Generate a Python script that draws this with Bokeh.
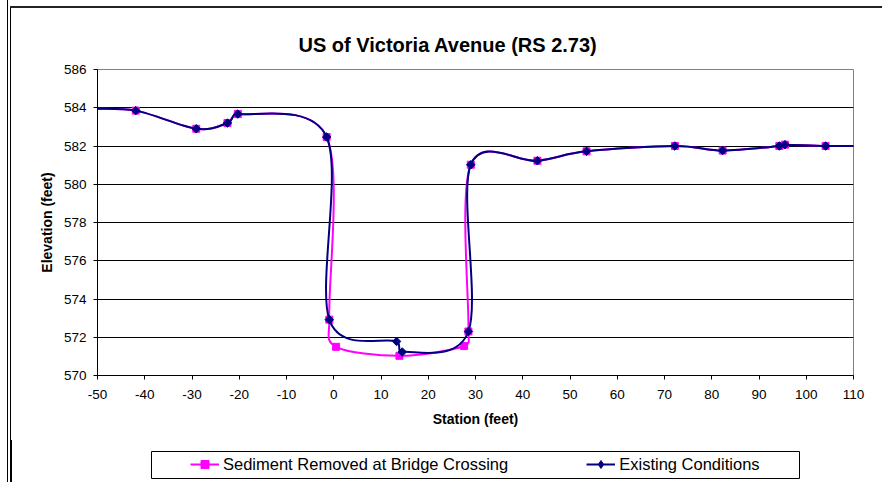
import numpy as np
from bokeh.plotting import figure
from bokeh.models import Range1d, Legend, LegendItem, FixedTicker, ColumnDataSource, InlineStyleSheet
from bokeh.embed import file_html
from bokeh.resources import INLINE

# ---- data ----
title_text = "US of Victoria Avenue (RS 2.73)"
x_label = "Station (feet)"
y_label = "Elevation (feet)"
series_names = ["Sediment Removed at Bridge Crossing", "Existing Conditions"]

sed_x = [-52, -41.9, -29.1, -22.5, -20.3, -1.5, -0.94, 0.5, 13.9, 27.6, 28.5, 29.0,
         43.1, 53.5, 72.2, 82.3, 94.3, 95.5, 104.1, 112]
sed_y = [583.94, 583.85, 582.9, 583.2, 583.67, 582.47, 572.92, 571.5, 571.03, 571.54, 572.3, 581.02,
         581.23, 581.72, 582.0, 581.76, 582.0, 582.07, 582.0, 582.0]

exist_x = [-52, -41.9, -29.1, -22.5, -20.3, -1.5, -0.94, 13.3, 14.5, 28.5, 29.0,
           43.1, 53.5, 72.2, 82.3, 94.3, 95.5, 104.1, 112]
exist_y = [583.94, 583.85, 582.9, 583.2, 583.67, 582.47, 572.92, 571.78, 571.23, 572.3, 581.02,
           581.23, 581.72, 582.0, 581.76, 582.0, 582.07, 582.0, 582.0]

x_ticks = list(range(-50, 111, 10))
y_ticks = list(range(570, 587, 2))

# ---- style / layout ----
FONT = "Liberation Sans"
PINK = "#FF00FF"
NAVY = "#000080"
W, H, HL = 882, 440, 42
FL, FR, FT, FB = 97, 29, 69, 65
X0, X1, Y0, Y1 = x_ticks[0], x_ticks[-1], y_ticks[0], y_ticks[-1]
fw = W - FL - FR
fh = H - FT - FB
sx = fw / (X1 - X0)
sy = fh / (Y1 - Y0)


def smooth(xs, ys):
    """Excel-like smoothed line: cubic Bezier segments (Catmull-Rom, 1/6 tension,
    control distance capped to half the segment, computed in screen space)."""
    P = np.column_stack([np.asarray(xs, float) * sx, np.asarray(ys, float) * sy])
    n = len(P)
    out = {k: [] for k in ("x0", "y0", "x1", "y1", "cx0", "cy0", "cx1", "cy1")}
    for i in range(n - 1):
        p0 = P[max(i - 1, 0)]
        p1 = P[i]
        p2 = P[i + 1]
        p3 = P[min(i + 2, n - 1)]
        seg = np.linalg.norm(p2 - p1)
        t1 = (p2 - p0) / 6.0
        t2 = (p3 - p1) / 6.0
        l1 = np.linalg.norm(t1)
        l2 = np.linalg.norm(t2)
        if l1 > seg / 2 and l1 > 0:
            t1 = t1 * (seg / 2) / l1
        if l2 > seg / 2 and l2 > 0:
            t2 = t2 * (seg / 2) / l2
        c1 = p1 + t1
        c2 = p2 - t2
        out["x0"].append(p1[0] / sx); out["y0"].append(p1[1] / sy)
        out["x1"].append(p2[0] / sx); out["y1"].append(p2[1] / sy)
        out["cx0"].append(c1[0] / sx); out["cy0"].append(c1[1] / sy)
        out["cx1"].append(c2[0] / sx); out["cy1"].append(c2[1] / sy)
    return ColumnDataSource(out)


# decorative sheet border (top/left edges of the chart object)
BASE = ("content:''; position:absolute; pointer-events:none; z-index:20; border:none; "
        "box-sizing:content-box; padding:0; margin:0;")
top_css = (
    ":host::before {" + BASE + " left:7px; top:0; width:1px; height:440px; background:#000;"
    " box-shadow: 3px 6px 0 0 #000;}"
    ":host::after {" + BASE + " left:10px; top:6px; width:872px; height:1.5px; background:#222;}"
)
bottom_css = (
    ":host::before {" + BASE + " left:7px; top:0; width:1px; height:42px; background:#000;}"
    ":host::after {" + BASE + " left:10px; top:0; width:1.5px; height:42px; background:#000;}"
)

p = figure(width=W, height=H, x_range=Range1d(X0, X1), y_range=Range1d(Y0, Y1),
           output_backend="svg", toolbar_location=None,
           min_border_left=FL, min_border_right=FR, min_border_top=FT, min_border_bottom=FB,
           title=title_text)
p.stylesheets = [InlineStyleSheet(css=top_css)]
p.title.text_font = FONT
p.title.text_font_size = "20px"
p.title.text_font_style = "bold"
p.title.text_color = "black"
p.title.align = "left"
p.title.offset = 201
p.title.standoff = 28

p.outline_line_color = "#808080"
p.outline_line_width = 1
p.xgrid.visible = False
p.ygrid.grid_line_color = "black"
p.ygrid.grid_line_width = 1
p.ygrid.ticker = FixedTicker(ticks=y_ticks)

p.xaxis.ticker = FixedTicker(ticks=x_ticks)
p.yaxis.ticker = FixedTicker(ticks=y_ticks)
p.xaxis.major_label_overrides = {t: str(t) for t in x_ticks}
p.yaxis.major_label_overrides = {t: str(t) for t in y_ticks}
p.xaxis.axis_label = x_label
p.yaxis.axis_label = y_label
for ax in (p.xaxis[0], p.yaxis[0]):
    ax.axis_line_color = "black"
    ax.axis_line_width = 1
    ax.major_tick_in = 0
    ax.major_tick_out = 4
    ax.major_tick_line_color = "black"
    ax.minor_tick_line_color = None
    ax.major_label_text_font = FONT
    ax.major_label_text_font_size = "13.5px"
    ax.major_label_text_color = "black"
    ax.major_label_standoff = 7
    ax.axis_label_text_font = FONT
    ax.axis_label_text_font_size = "14px"
    ax.axis_label_text_font_style = "bold"
    ax.axis_label_text_color = "black"
p.yaxis.axis_label_standoff = 6
p.xaxis.axis_label_standoff = 9
p.xaxis.major_label_standoff = 10

# pink: sediment removed
p.bezier(x0="x0", y0="y0", x1="x1", y1="y1", cx0="cx0", cy0="cy0", cx1="cx1", cy1="cy1",
         source=smooth(sed_x, sed_y), line_color=PINK, line_width=2)
p.scatter(sed_x, sed_y, marker="square", size=7, fill_color=PINK, line_color=PINK)
# navy: existing conditions
p.bezier(x0="x0", y0="y0", x1="x1", y1="y1", cx0="cx0", cy0="cy0", cx1="cx1", cy1="cy1",
         source=smooth(exist_x, exist_y), line_color=NAVY, line_width=2)
p.scatter(exist_x, exist_y, marker="square", angle=np.pi / 4, size=6,
          fill_color=NAVY, line_color=NAVY)

# ---- legend strip (its frame outline is the legend box) ----
LL, LW = 151, 648
p2 = figure(width=W, height=HL, x_range=Range1d(0, 1), y_range=Range1d(0, 1),
            output_backend="svg", toolbar_location=None,
            min_border_left=LL, min_border_right=W - LL - LW, min_border_top=11,
            min_border_bottom=4, x_axis_location=None, y_axis_location=None)
p2.stylesheets = [InlineStyleSheet(css=bottom_css)]
p2.grid.visible = False
p2.outline_line_color = "black"
p2.outline_line_width = 1
# same series, out of this strip's view, only so the legend can draw their glyphs
l1 = p2.line(sed_x, sed_y, line_color=PINK, line_width=2)
m1 = p2.scatter(sed_x, sed_y, marker="square", size=7, fill_color=PINK, line_color=PINK)
l2 = p2.line(exist_x, exist_y, line_color=NAVY, line_width=2)
m2 = p2.scatter(exist_x, exist_y, marker="diamond", size=10,
                fill_color=NAVY, line_color=NAVY)
legend = Legend(items=[LegendItem(label=series_names[0], renderers=[l1, m1]),
                       LegendItem(label=series_names[1], renderers=[l2, m2])],
                location=(39, 4), orientation="horizontal", padding=0, spacing=78,
                glyph_width=29, glyph_height=20, label_height=20, label_standoff=4, margin=0,
                label_text_font=FONT, label_text_font_size="16.5px", label_text_color="black",
                border_line_alpha=0, background_fill_alpha=0)
p2.add_layout(legend)

open("out.html", "w").write(file_html([p, p2], INLINE))
